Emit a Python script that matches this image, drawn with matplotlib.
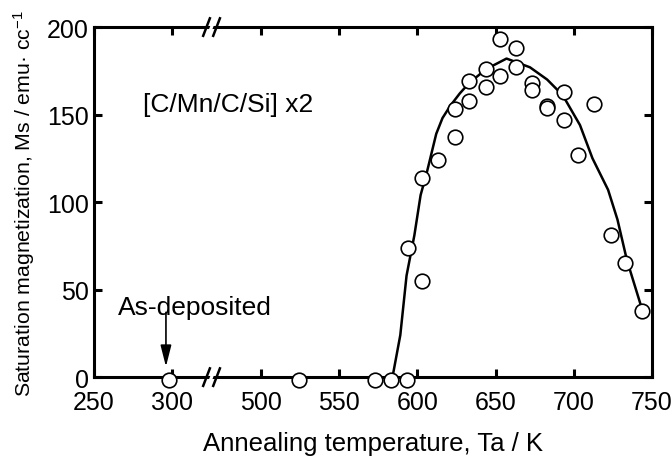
import numpy as np
import matplotlib
matplotlib.use("Agg")
import matplotlib.pyplot as plt
from matplotlib.patches import Polygon

plt.rcParams['font.family'] = ['Liberation Sans', 'DejaVu Sans']
plt.rcParams['mathtext.default'] = 'regular'

# measured points (annealing temperature K, Ms emu/cc)
temp_pts = [298, 524, 573, 583, 593, 594, 603, 603, 613, 624, 624, 633, 633,
            644, 644, 653, 653, 663, 663, 673, 673, 683, 683, 694, 694, 703,
            713, 724, 733, 744]
ms_pts = [-1.5, -1.5, -1.5, -1.5, -1.5, 74, 55, 114, 124, 153, 137, 169, 158,
          176, 166, 193, 172, 188, 177, 168, 164, 155, 154, 163, 147, 127,
          156, 81, 65, 38]

# guide curve
temp_fit = [584, 589, 593, 598, 602, 606, 609, 612, 616, 621, 627, 633, 644,
            657, 672, 683, 693, 704, 712, 722, 728, 734, 744]
ms_fit = [0, 24, 58, 81, 104, 117, 128, 139, 148, 155, 162, 168, 176,
          182, 177, 170, 161, 144, 125, 107, 90, 67, 38]

xticks = [250, 300, 500, 550, 600, 650, 700, 750]
yticks = [0, 50, 100, 150, 200]

# broken x axis: 250-323 then 467-750, squeezed together
brk_in = [250, 323, 467, 750]
brk_out = [0, 73, 74, 357]


def fwd(x):
    return np.interp(x, brk_in, brk_out)


def inv(x):
    return np.interp(x, brk_out, brk_in)


fig = plt.figure(figsize=(6.72, 4.60), dpi=100)
ax = fig.add_axes([0.140, 0.178, 0.830, 0.761])
ax.set_xscale('function', functions=(fwd, inv))

ax.plot(temp_fit, ms_fit, color='black', lw=1.8, zorder=2)
ax.plot(temp_pts, ms_pts, 'o', mfc='white', mec='black', ms=10.5, mew=1.2,
        zorder=3, clip_on=False)

ax.set_xlim(250, 750)
ax.set_ylim(0, 200)
ax.set_xticks(xticks)
ax.set_xticklabels([str(t) for t in xticks])
ax.set_yticks(yticks)
ax.minorticks_off()
ax.tick_params(direction='in', length=6, width=2.2, labelsize=18,
               top=True, right=True)
ax.tick_params(axis='x', pad=9.5)
ax.tick_params(axis='y', pad=4)
for s in ax.spines.values():
    s.set_linewidth(2.2)

ax.set_xlabel('Annealing temperature, Ta / K', fontsize=18.5, labelpad=12)
ax.set_ylabel('Saturation magnetization, Ms / emu· cc$^{-1}$', fontsize=15.3,
              labelpad=7)

ax.text(0.088, 0.76, '[C/Mn/C/Si] x2', transform=ax.transAxes, fontsize=19,
        va='baseline')
ax.text(0.043, 0.18, 'As-deposited', transform=ax.transAxes, fontsize=19,
        va='baseline')
ax.annotate('', xy=(296, 6), xytext=(296, 37),
            arrowprops=dict(arrowstyle='-|>,head_length=1.3,head_width=0.33',
                            color='black', lw=1.2, mutation_scale=10,
                            shrinkA=0, shrinkB=0))

# break marks on top and bottom spines
bx = 0.2106
for yb in (0.0, 1.0):
    gap = Polygon([[bx - 0.009, yb - 0.025], [bx + 0.003, yb + 0.025],
                   [bx + 0.009, yb + 0.025], [bx - 0.003, yb - 0.025]],
                  closed=True, transform=ax.transAxes, facecolor='white',
                  edgecolor='none', clip_on=False, zorder=5)
    ax.add_patch(gap)
    for dx in (-0.009, 0.009):
        ax.plot([bx + dx - 0.006, bx + dx + 0.006], [yb - 0.025, yb + 0.025],
                transform=ax.transAxes, color='black', lw=1.8,
                clip_on=False, zorder=6)

fig.savefig('out.png', dpi=100)
